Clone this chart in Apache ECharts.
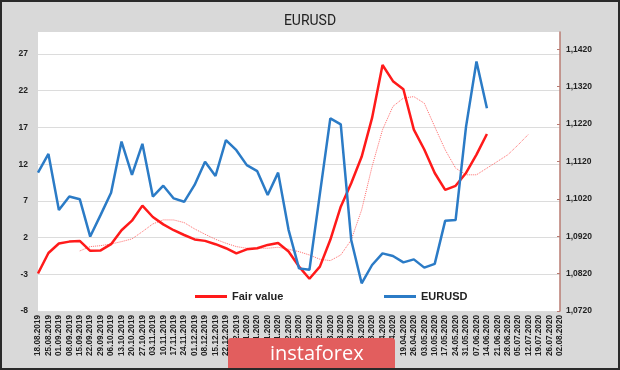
<!DOCTYPE html>
<html><head><meta charset="utf-8">
<script src="https://cdn.jsdelivr.net/npm/echarts@6/dist/echarts.min.js"></script>
<style>html,body{margin:0;padding:0;}#c{width:616px;height:366px;border:2px solid #2a2a2a;background:#d9d9d9;}</style>
</head><body><div id="c"></div>
<script>
const dates = ['18.08.2019','25.08.2019','01.09.2019','08.09.2019','15.09.2019','22.09.2019','29.09.2019','06.10.2019','13.10.2019','20.10.2019','27.10.2019','03.11.2019','10.11.2019','17.11.2019','24.11.2019','01.12.2019','08.12.2019','15.12.2019','22.12.2019','29.12.2019','05.01.2020','12.01.2020','19.01.2020','26.01.2020','02.02.2020','09.02.2020','16.02.2020','23.02.2020','01.03.2020','08.03.2020','15.03.2020','22.03.2020','29.03.2020','05.04.2020','12.04.2020','19.04.2020','26.04.2020','03.05.2020','10.05.2020','17.05.2020','24.05.2020','31.05.2020','07.06.2020','14.06.2020','21.06.2020','28.06.2020','05.07.2020','12.07.2020','19.07.2020','26.07.2020','02.08.2020'];
const fairValue = [-2.9,-0.1,1.2,1.45,1.55,0.2,0.25,1.1,3.0,4.3,6.35,4.8,3.8,3.0,2.35,1.75,1.55,1.1,0.55,-0.15,0.4,0.55,1.0,1.25,0.1,-1.95,-3.6,-1.95,1.7,6.2,9.4,13.0,18.3,25.5,23.3,22.2,16.7,14.0,10.8,8.5,9.05,10.8,13.3,16.1];
const eurusd = [1.1090,1.1140,1.0990,1.1026,1.1019,1.0919,1.0977,1.1036,1.1173,1.1084,1.1167,1.1026,1.1055,1.1021,1.1012,1.1057,1.1119,1.1081,1.1177,1.1150,1.1110,1.1094,1.1030,1.1090,1.0937,1.0834,1.0830,1.1033,1.1235,1.1219,1.0910,1.0794,1.0843,1.0874,1.0867,1.0850,1.0858,1.0836,1.0846,1.0961,1.0963,1.1213,1.1387,1.1262];
const fairTrend = [null,null,null,null,0.18,0.77,0.9,1.13,1.45,1.82,2.81,3.86,4.41,4.4,4.04,3.18,2.45,1.77,1.23,0.77,0.55,0.55,0.55,0.68,0.41,0.08,-0.37,-0.95,-1.14,-0.37,1.68,5.77,11.68,16.69,19.87,21.0,21.2,20.3,17.1,13.96,11.46,10.55,10.55,11.46,12.36,13.28,14.64,16.1];
const leftTicks = [-8,-3,2,7,12,17,22,27];
const rightTicks = [1.072,1.082,1.092,1.102,1.112,1.122,1.132,1.142];

const chart = echarts.init(document.getElementById('c'));
chart.setOption({
  animation:false,
  backgroundColor:'#d9d9d9',
  title:{text:'EURUSD',left:'center',top:7,textStyle:{fontFamily:'Roboto',fontSize:14,fontWeight:'normal',color:'#222'}},
  grid:{left:36,right:58,top:30,bottom:57,show:true,backgroundColor:'#ffffff',borderWidth:0},
  legend:[
    {data:['Fair value'],left:188,top:284,itemWidth:32,itemHeight:3,icon:'rect',itemGap:6,textStyle:{fontFamily:'Liberation Sans',fontSize:11,fontWeight:'bold',color:'#222'}},
    {data:['EURUSD'],left:377,top:284,itemWidth:32,itemHeight:3,icon:'rect',itemGap:6,textStyle:{fontFamily:'Liberation Sans',fontSize:11,fontWeight:'bold',color:'#222'}}
  ],
  xAxis:{type:'category',data:dates,boundaryGap:false,
    axisLine:{show:false},axisTick:{show:false},
    axisLabel:{interval:0,rotate:90,fontSize:8.2,fontWeight:'bold',color:'#222',fontFamily:'Liberation Sans',margin:4}},
  yAxis:[
    {type:'value',min:-8,max:30,position:'left',
      axisLine:{show:false},axisTick:{show:false,customValues:leftTicks},
      axisLabel:{customValues:leftTicks,fontSize:8.5,fontWeight:'bold',color:'#222',fontFamily:'Liberation Sans',margin:10},
      splitLine:{lineStyle:{color:'#dcdcdc',width:1}}},
    {type:'value',min:1.072,max:1.1466,position:'right',
      axisLine:{show:true,lineStyle:{color:'#b87b72',width:1.5}},
      axisTick:{show:true,inside:true,length:3,customValues:rightTicks,lineStyle:{color:'#b87b72'}},
      axisLabel:{customValues:rightTicks,fontSize:8.5,fontWeight:'bold',color:'#222',fontFamily:'Liberation Sans',margin:6,
        formatter:v=>v.toFixed(4).replace('.',',')},
      splitLine:{show:false}}
  ],
  series:[
    {name:'Fair value',type:'line',yAxisIndex:0,data:fairValue,symbol:'none',lineStyle:{color:'#ff1a1a',width:2.5},itemStyle:{color:'#ff1a1a'},z:3},
    {name:'EURUSD',type:'line',yAxisIndex:1,data:eurusd,symbol:'none',lineStyle:{color:'#2b7bc6',width:2.5},itemStyle:{color:'#2b7bc6'},z:4},
    {name:'trend',type:'line',yAxisIndex:0,data:fairTrend,symbol:'none',lineStyle:{color:'#ff6b6b',width:1,type:'dotted'},z:2}
  ],
  graphic:[
    {type:'rect',left:226,top:336,shape:{width:167,height:34,r:3},style:{fill:'#e25e5e'},z:100},
    {type:'text',left:268,top:342,style:{text:'instaforex',fill:'#ffffff',font:'20px "Open Sans"'},z:101}
  ]
});
</script></body></html>
